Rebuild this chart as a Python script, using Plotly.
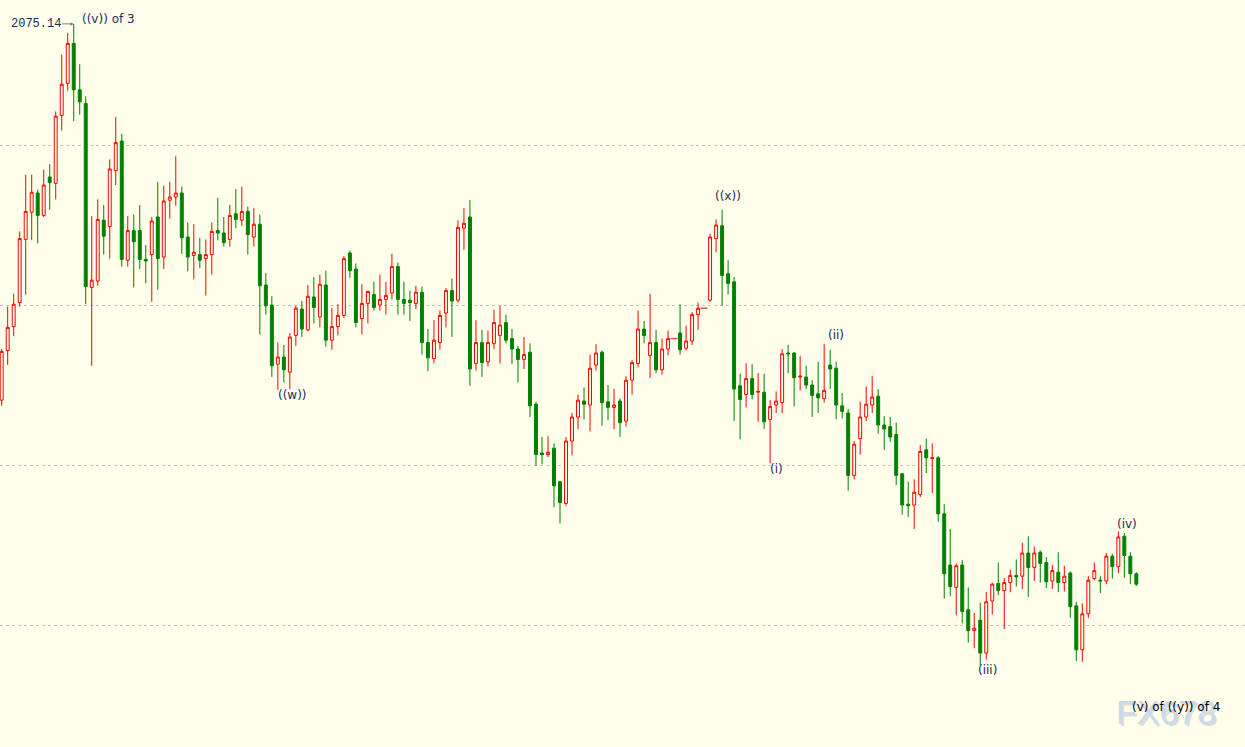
import plotly.graph_objects as go

# OHLC data (index = bar number)
opens = [2028.1, 2034.3, 2037.3, 2040.3, 2048.2, 2051.6, 2054.0, 2051.2, 2056.0, 2055.2,
         2063.7, 2067.7, 2072.7, 2066.9, 2065.2, 2042.2, 2043.0, 2050.6, 2049.8, 2056.8,
         2060.5, 2045.6, 2049.3, 2049.3, 2045.7, 2046.3, 2051.0, 2046.0, 2053.1, 2053.5,
         2054.0, 2048.5, 2046.2, 2046.3, 2045.8, 2046.3, 2049.3, 2049.0, 2048.2, 2051.4,
         2050.6, 2051.7, 2048.5, 2050.1, 2042.5, 2040.0, 2032.6, 2033.5, 2031.6, 2036.2,
         2039.5, 2036.9, 2041.0, 2038.5, 2042.5, 2035.6, 2037.3, 2038.7, 2046.5, 2044.5,
         2038.3, 2040.2, 2041.3, 2040.0, 2040.7, 2041.5, 2044.8, 2040.7, 2040.6, 2040.2,
         2041.6, 2035.3, 2033.3, 2035.3, 2039.0, 2041.8, 2040.6, 2049.6, 2051.0, 2032.7,
         2035.3, 2032.9, 2035.2, 2036.2, 2037.8, 2035.8, 2034.5, 2033.2, 2034.1, 2027.6,
         2021.5, 2021.3, 2022.1, 2017.9, 2015.2, 2023.0, 2026.0, 2028.0, 2027.5, 2032.5,
         2034.1, 2027.9, 2027.2, 2028.0, 2025.5, 2030.6, 2032.7, 2037.0, 2033.7, 2035.3,
         2031.9, 2034.5, 2035.8, 2036.5, 2034.6, 2035.5, 2038.8, 2039.6, 2040.6, 2048.3,
         2049.9, 2043.9, 2042.9, 2029.9, 2028.8, 2030.8, 2029.1, 2029.1, 2025.7, 2027.5,
         2027.8, 2034.0, 2034.0, 2031.0, 2031.0, 2030.0, 2028.9, 2028.3, 2032.5, 2032.1,
         2027.4, 2026.5, 2018.7, 2023.3, 2026.0, 2027.5, 2028.6, 2025.0, 2024.8, 2023.8,
         2018.9, 2015.1, 2015.0, 2016.3, 2021.9, 2020.8, 2020.9, 2013.9, 2007.5, 2004.7,
         2007.5, 2001.9, 1999.3, 2000.6, 1996.5, 2003.0, 2005.2, 2004.3, 2005.3, 2006.2,
         2006.1, 2009.0, 2007.2, 2009.1, 2007.8, 2005.5, 2006.6, 2005.3, 2006.5, 2002.4,
         1996.9, 2001.4, 2005.8, 2005.6, 2005.5, 2008.6, 2007.3, 2011.1, 2008.6, 2006.4]
highs = [2034.5, 2039.8, 2041.4, 2049.2, 2056.3, 2056.3, 2054.4, 2056.9, 2057.6, 2064.2,
         2071.3, 2074.0, 2075.14, 2070.1, 2066.1, 2051.1, 2053.2, 2052.5, 2058.2, 2063.5,
         2061.4, 2051.1, 2051.3, 2052.5, 2047.5, 2051.0, 2055.4, 2054.9, 2055.4, 2058.6,
         2054.8, 2050.3, 2050.1, 2048.4, 2048.2, 2050.3, 2053.4, 2051.0, 2052.5, 2054.5,
         2054.8, 2052.3, 2052.1, 2051.3, 2044.0, 2041.1, 2035.3, 2035.0, 2036.5, 2039.9,
         2040.5, 2042.5, 2043.5, 2043.8, 2044.3, 2039.6, 2040.1, 2046.1, 2046.8, 2045.2,
         2042.6, 2041.8, 2042.9, 2043.8, 2042.9, 2046.4, 2045.3, 2042.9, 2041.8, 2042.4,
         2042.3, 2037.0, 2038.1, 2039.3, 2042.1, 2043.3, 2050.6, 2052.1, 2053.1, 2038.1,
         2036.9, 2036.8, 2039.4, 2039.9, 2038.8, 2037.0, 2034.9, 2036.0, 2035.2, 2027.9,
         2023.5, 2023.6, 2022.7, 2018.0, 2023.5, 2026.5, 2028.8, 2029.7, 2033.8, 2035.1,
         2034.3, 2030.0, 2029.5, 2028.3, 2031.1, 2033.1, 2039.3, 2038.0, 2041.4, 2036.9,
         2035.8, 2036.8, 2035.8, 2040.1, 2037.4, 2039.1, 2040.3, 2039.6, 2048.9, 2050.7,
         2051.9, 2045.6, 2043.5, 2031.4, 2032.7, 2032.6, 2031.5, 2031.4, 2028.1, 2029.2,
         2034.5, 2035.0, 2034.1, 2033.6, 2032.4, 2030.6, 2032.9, 2035.1, 2034.4, 2032.9,
         2029.0, 2027.0, 2023.0, 2027.9, 2029.8, 2031.1, 2029.5, 2026.1, 2026.0, 2025.3,
         2019.0, 2017.9, 2018.2, 2022.5, 2023.3, 2022.7, 2021.1, 2015.1, 2012.0, 2007.7,
         2008.1, 2004.7, 2001.5, 2002.8, 2004.1, 2005.3, 2007.8, 2005.9, 2006.9, 2008.2,
         2010.3, 2011.1, 2009.8, 2009.3, 2008.5, 2007.5, 2009.1, 2007.4, 2006.7, 2002.9,
         2002.7, 2006.1, 2007.8, 2006.1, 2009.0, 2008.9, 2011.7, 2011.5, 2009.1, 2006.6]
lows = [2027.4, 2032.5, 2036.1, 2039.8, 2041.3, 2048.1, 2047.7, 2051.0, 2051.9, 2053.2,
        2061.8, 2066.8, 2063.0, 2063.8, 2040.1, 2032.4, 2042.4, 2046.3, 2045.8, 2055.0,
        2044.8, 2044.8, 2042.2, 2044.5, 2042.7, 2040.4, 2041.9, 2044.5, 2050.8, 2052.4,
        2046.4, 2044.2, 2043.2, 2044.6, 2041.2, 2043.8, 2048.1, 2047.3, 2047.3, 2049.6,
        2049.9, 2046.3, 2047.3, 2036.3, 2038.8, 2031.0, 2029.4, 2030.3, 2029.5, 2034.9,
        2036.0, 2036.7, 2037.7, 2037.2, 2034.8, 2034.4, 2036.2, 2038.4, 2043.4, 2037.2,
        2036.3, 2037.7, 2039.3, 2039.3, 2038.8, 2040.7, 2038.8, 2038.8, 2038.0, 2039.5,
        2033.8, 2031.7, 2032.7, 2034.4, 2037.2, 2036.0, 2040.3, 2046.9, 2029.9, 2031.8,
        2031.0, 2032.3, 2034.5, 2032.7, 2035.2, 2032.6, 2030.3, 2032.0, 2026.0, 2019.9,
        2020.1, 2021.0, 2014.7, 2012.7, 2014.9, 2021.2, 2024.5, 2025.7, 2024.2, 2031.8,
        2024.9, 2025.6, 2024.5, 2023.5, 2024.8, 2028.8, 2032.2, 2035.2, 2030.9, 2031.5,
        2031.3, 2033.7, 2035.8, 2033.8, 2034.3, 2035.0, 2036.9, 2039.6, 2040.4, 2046.6,
        2039.9, 2041.3, 2025.5, 2023.2, 2027.2, 2028.2, 2025.4, 2024.5, 2020.2, 2026.5,
        2026.5, 2031.5, 2027.3, 2029.3, 2029.5, 2026.0, 2026.5, 2027.8, 2029.5, 2025.7,
        2025.8, 2016.8, 2018.2, 2021.3, 2025.5, 2026.5, 2023.9, 2021.9, 2022.9, 2017.5,
        2013.8, 2013.5, 2012.0, 2016.0, 2019.0, 2016.5, 2012.9, 2003.3, 2003.6, 2001.2,
        2000.2, 1997.8, 1997.1, 1995.0, 1995.7, 2001.3, 2003.7, 1999.5, 2004.1, 2004.8,
        2004.5, 2003.5, 2005.5, 2005.3, 2004.6, 2004.5, 2004.1, 2004.2, 2000.9, 1995.5,
        1995.4, 2000.9, 2005.6, 2004.0, 2005.1, 2005.8, 2006.5, 2005.9, 2005.1, 2004.9]
closes = [2034.2, 2037.2, 2040.1, 2048.3, 2051.7, 2054.1, 2051.2, 2055.0, 2055.3, 2063.6,
          2067.6, 2072.7, 2066.9, 2065.4, 2042.3, 2043.1, 2050.7, 2048.6, 2057.0, 2060.3,
          2045.7, 2049.3, 2047.9, 2045.7, 2045.5, 2050.5, 2045.8, 2053.0, 2053.5, 2054.0,
          2048.4, 2046.0, 2046.6, 2045.6, 2046.3, 2049.2, 2049.0, 2047.8, 2051.2, 2050.7,
          2051.7, 2048.8, 2050.1, 2042.4, 2039.9, 2032.4, 2033.5, 2031.9, 2036.0, 2039.6,
          2037.0, 2041.1, 2039.7, 2042.6, 2035.6, 2037.3, 2038.7, 2045.8, 2044.3, 2037.8,
          2040.2, 2041.7, 2039.7, 2040.7, 2041.2, 2044.8, 2040.7, 2040.2, 2040.3, 2041.6,
          2035.3, 2033.4, 2035.6, 2038.7, 2041.8, 2040.5, 2049.7, 2050.2, 2032.0, 2035.3,
          2032.8, 2035.3, 2037.8, 2037.5, 2035.6, 2034.5, 2033.2, 2033.8, 2027.4, 2021.3,
          2021.3, 2021.6, 2017.4, 2015.3, 2023.0, 2026.0, 2028.1, 2027.6, 2032.1, 2034.0,
          2027.8, 2027.2, 2027.5, 2025.3, 2030.6, 2032.8, 2037.0, 2036.2, 2035.3, 2031.9,
          2034.5, 2035.8, 2035.8, 2034.4, 2035.5, 2038.8, 2039.6, 2039.6, 2048.5, 2050.0,
          2043.7, 2042.7, 2029.5, 2028.2, 2030.8, 2028.8, 2029.2, 2025.4, 2027.3, 2028.0,
          2033.9, 2033.9, 2030.9, 2031.1, 2030.0, 2028.7, 2028.4, 2029.3, 2032.0, 2027.5,
          2026.7, 2018.7, 2022.6, 2026.0, 2027.6, 2028.5, 2025.0, 2024.5, 2023.5, 2018.7,
          2015.0, 2014.9, 2016.6, 2021.7, 2020.9, 2020.9, 2013.9, 2006.4, 2004.8, 2007.4,
          2001.7, 1999.3, 1999.6, 1996.5, 2002.9, 2005.1, 2004.3, 2005.3, 2006.2, 2006.0,
          2009.0, 2007.2, 2009.0, 2007.7, 2005.4, 2006.8, 2005.3, 2006.1, 2002.3, 1996.9,
          2001.4, 2005.6, 2006.8, 2005.5, 2008.6, 2007.3, 2011.0, 2008.7, 2006.4, 2005.1]
bars = list(range(len(opens)))

grid_levels = [2000, 2020, 2040, 2060]

# Elliott-wave labels: (bar position, price, text)
wave_labels = [
    (48.5, 2028.75, "((w))"),
    (121.0, 2053.6, "((x))"),
    (129.0, 2019.5, "(i)"),
    (139.0, 2036.3, "(ii)"),
    (164.2, 1994.4, "(iii)"),
    (187.4, 2012.6, "(iv)"),
]

BG = "#FFFFEB"
RED = "#FF0000"
GREEN = "#008000"
NAVY = "#1A2B5E"

# bars with a range are candles; flat bars (O=H=L=C) are short black dashes
flat = [i for i in bars if opens[i] == highs[i] == lows[i] == closes[i]]
cand = [i for i in bars if i not in flat]

fig = go.Figure()
fig.add_trace(go.Candlestick(
    x=cand,
    open=[opens[i] for i in cand], high=[highs[i] for i in cand],
    low=[lows[i] for i in cand], close=[closes[i] for i in cand],
    increasing=dict(line=dict(color=RED, width=1), fillcolor=BG),
    decreasing=dict(line=dict(color=GREEN, width=1), fillcolor=GREEN),
    whiskerwidth=0, showlegend=False, hoverinfo="skip",
))
fig.add_trace(go.Scatter(
    x=flat, y=[closes[i] for i in flat], mode="markers",
    marker=dict(symbol="line-ew-open", size=5, line=dict(color="#000000", width=1.5)),
    showlegend=False, hoverinfo="skip",
))

annotations = []
# watermark (shadow + text)
annotations.append(dict(xref="paper", yref="paper", x=0.9380, y=0.0440, text="FX678",
                        xanchor="center", yanchor="middle", showarrow=False,
                        font=dict(family="Liberation Sans", size=34, color="#DCDCDC")))
annotations.append(dict(xref="paper", yref="paper", x=0.9365, y=0.0469, text="FX678",
                        xanchor="center", yanchor="middle", showarrow=False,
                        font=dict(family="Liberation Sans", size=34, color="#CBD9EC")))

# top price marker
top_i = highs.index(max(highs))
annotations.append(dict(x=top_i, y=highs[top_i], text=f"{max(highs):.2f}", showarrow=True,
                        ax=-38, ay=0, arrowhead=2, arrowsize=0.7, arrowwidth=1, arrowcolor="#7F7F7F",
                        font=dict(family="Liberation Mono", size=12, color=NAVY)))
annotations.append(dict(x=13.0, y=2075.75, text="((v)) of 3", showarrow=False, xanchor="left",
                        font=dict(family="DejaVu Sans", size=12, color=NAVY)))
for xv, yv, t in wave_labels:
    annotations.append(dict(x=xv, y=yv, text=t, showarrow=False,
                            font=dict(family="DejaVu Sans", size=12, color=NAVY)))
annotations.append(dict(x=188.0, y=1989.75, text="(v) of ((y)) of 4", showarrow=False, xanchor="left",
                        font=dict(family="DejaVu Sans", size=12, color="#000000")))

fig.update_layout(
    width=1245, height=747,
    margin=dict(l=0, r=0, t=0, b=0),
    paper_bgcolor=BG, plot_bgcolor=BG,
    annotations=annotations,
    xaxis=dict(range=[-0.28, 207.1], showgrid=False, zeroline=False, showticklabels=False,
               rangeslider=dict(visible=False), fixedrange=True, showline=False),
    yaxis=dict(range=[1984.75, 2078.125], tickvals=grid_levels, showticklabels=False,
               showgrid=True, gridcolor="#C4C4C4", griddash="dot", gridwidth=1,
               zeroline=False, showline=False, fixedrange=True),
    boxgap=0.3,
)

fig.write_html("out.html", config={"displayModeBar": False},
               post_script="document.body.style.margin='0';document.body.style.overflow='hidden';"
                           "document.body.style.background='" + BG + "';")
